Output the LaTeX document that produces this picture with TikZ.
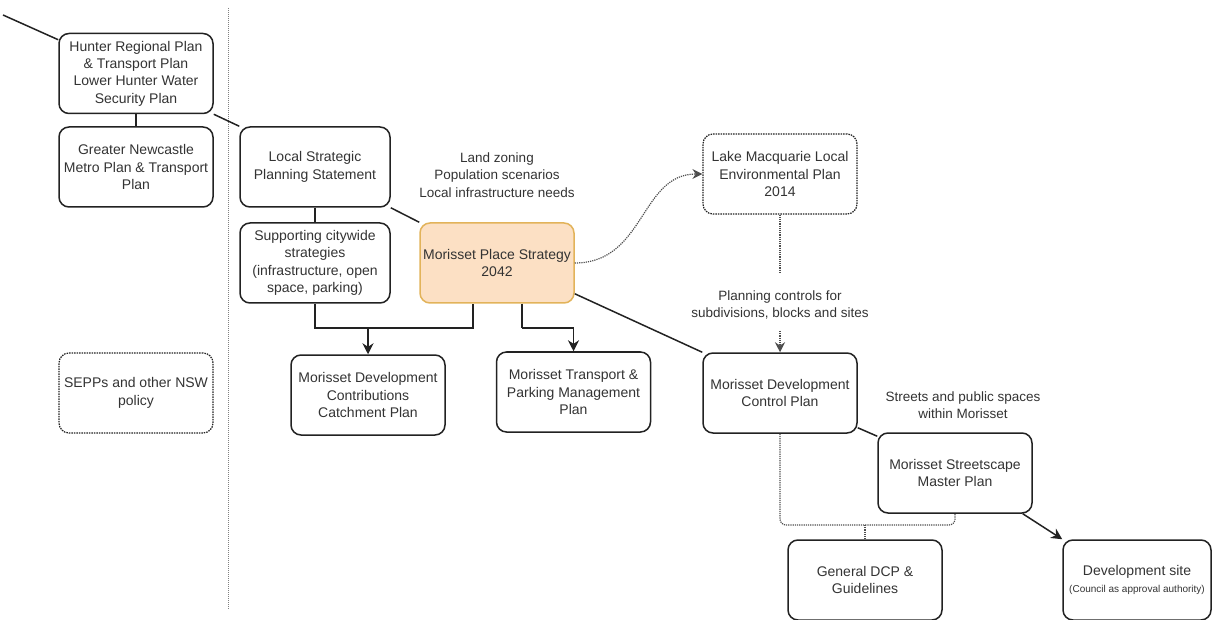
\documentclass[tikz,border=0pt]{standalone}
\usepackage{fontspec}
\setmainfont{Liberation Sans}
\usetikzlibrary{arrows.meta,calc}
\definecolor{txt}{HTML}{333333}
\definecolor{ln}{HTML}{222222}
\definecolor{peach}{HTML}{FCE0C4}
\definecolor{gold}{HTML}{E2B35A}
\begin{document}
\begin{tikzpicture}[x=1pt,y=-1pt,
  box/.style={draw=ln, line width=1.5pt, rounded corners=10pt, minimum width=154pt, minimum height=80pt, align=center, text=txt, inner sep=2pt, font=\fontsize{14}{17.4}\selectfont},
  dbox/.style={box, densely dotted, line width=1.2pt},
  lbl/.style={align=center, text=txt, font=\fontsize{13.5}{17.4}\selectfont},
  conn/.style={draw=ln, line width=1.5pt},
  arr/.style={conn, -{Stealth[length=11pt,width=11pt]}},
  dconn/.style={draw=ln!80, line width=1.2pt, densely dotted}]
\useasboundingbox (0,0) rectangle (1213,620);
% separator
\coordinate (septop) at (228,8);
\coordinate (sepbot) at (228,610);
\draw[draw=gray, line width=1pt, densely dotted] (septop) -- (sepbot);
% nodes
\node[box] (hunter) at (136,73.5) {Hunter Regional Plan\\\& Transport Plan\\Lower Hunter Water\\Security Plan};
\node[box] (newc) at (136,167) {Greater Newcastle\\Metro Plan \& Transport\\Plan};
\node[dbox] (sepp) at (136,393) {SEPPs and other NSW\\policy};
\node[box, minimum width=150pt] (lsps) at (315,167) {Local Strategic\\Planning Statement};
\node[box, minimum width=150pt] (supp) at (315,263) {Supporting citywide\\strategies\\(infrastructure, open\\space, parking)};
\node[box, fill=peach, draw=gold] (mps) at (497,263) {Morisset Place Strategy\\2042};
\node[box] (devcon) at (368,395) {Morisset Development\\Contributions\\Catchment Plan};
\node[box] (transp) at (573.5,392) {Morisset Transport \&\\Parking Management\\Plan};
\node[dbox] (lake) at (780,174) {Lake Macquarie Local\\Environmental Plan\\2014};
\node[box] (dcp) at (780,393) {Morisset Development\\Control Plan};
\node[box] (street) at (955,473) {Morisset Streetscape\\Master Plan};
\node[box] (gdcp) at (865,580) {General DCP \&\\Guidelines};
\node[box, minimum width=148pt] (site) at (1137,580) {Development site\\{\fontsize{10}{13}\selectfont (Council as approval authority)}};
% labels
\node[lbl] (landz) at (497,175) {Land zoning\\Population scenarios\\Local infrastructure needs};
\node[lbl] (pc) at (780,305) {Planning controls for\\subdivisions, blocks and sites};
\node[lbl] (streets) at (963,405) {Streets and public spaces\\within Morisset};
% connectors
\coordinate (ext) at (3,15);
\draw[conn] (ext) -- ([yshift=-7pt]hunter.north west);
\draw[conn] (hunter.south) -- (newc.north);
\draw[conn] (hunter.south east) -- (lsps.north west);
\draw[conn] (lsps.south) -- (supp.north);
\draw[conn] (lsps.south east) -- (mps.north west);
\coordinate (j1) at (368,328);
\draw[conn] (supp.south) |- (j1) -| ([xshift=-24pt]mps.south);
\draw[arr] (j1) -- (devcon.north);
\coordinate (j2) at (522,328);
\draw[conn] ([xshift=25pt]mps.south) -- (j2);
\draw[arr] (j2) -| (transp.north);
\draw[conn] ([yshift=10pt]mps.south east) -- (dcp.north west);
\draw[dconn, -{Stealth[length=10pt,width=10pt]}] (mps.east) .. controls (645,263) and (640,174) .. (lake.west);
\draw[dconn] (lake.south) -- ([yshift=14pt]pc.north);
\draw[dconn, -{Stealth[length=10pt,width=10pt]}] ([yshift=-8pt]pc.south) -- (dcp.north);
\draw[conn] ([yshift=6pt]dcp.south east) -- ([yshift=-4pt]street.north west);
\draw[arr] ([xshift=-10pt]street.south east) -- (site.north west);
\coordinate (br) at (865,525);
\draw[dconn, rounded corners=6pt] (dcp.south) |- (br) -| (street.south);
\draw[dconn] (br) -- (gdcp.north);
\end{tikzpicture}
\end{document}
